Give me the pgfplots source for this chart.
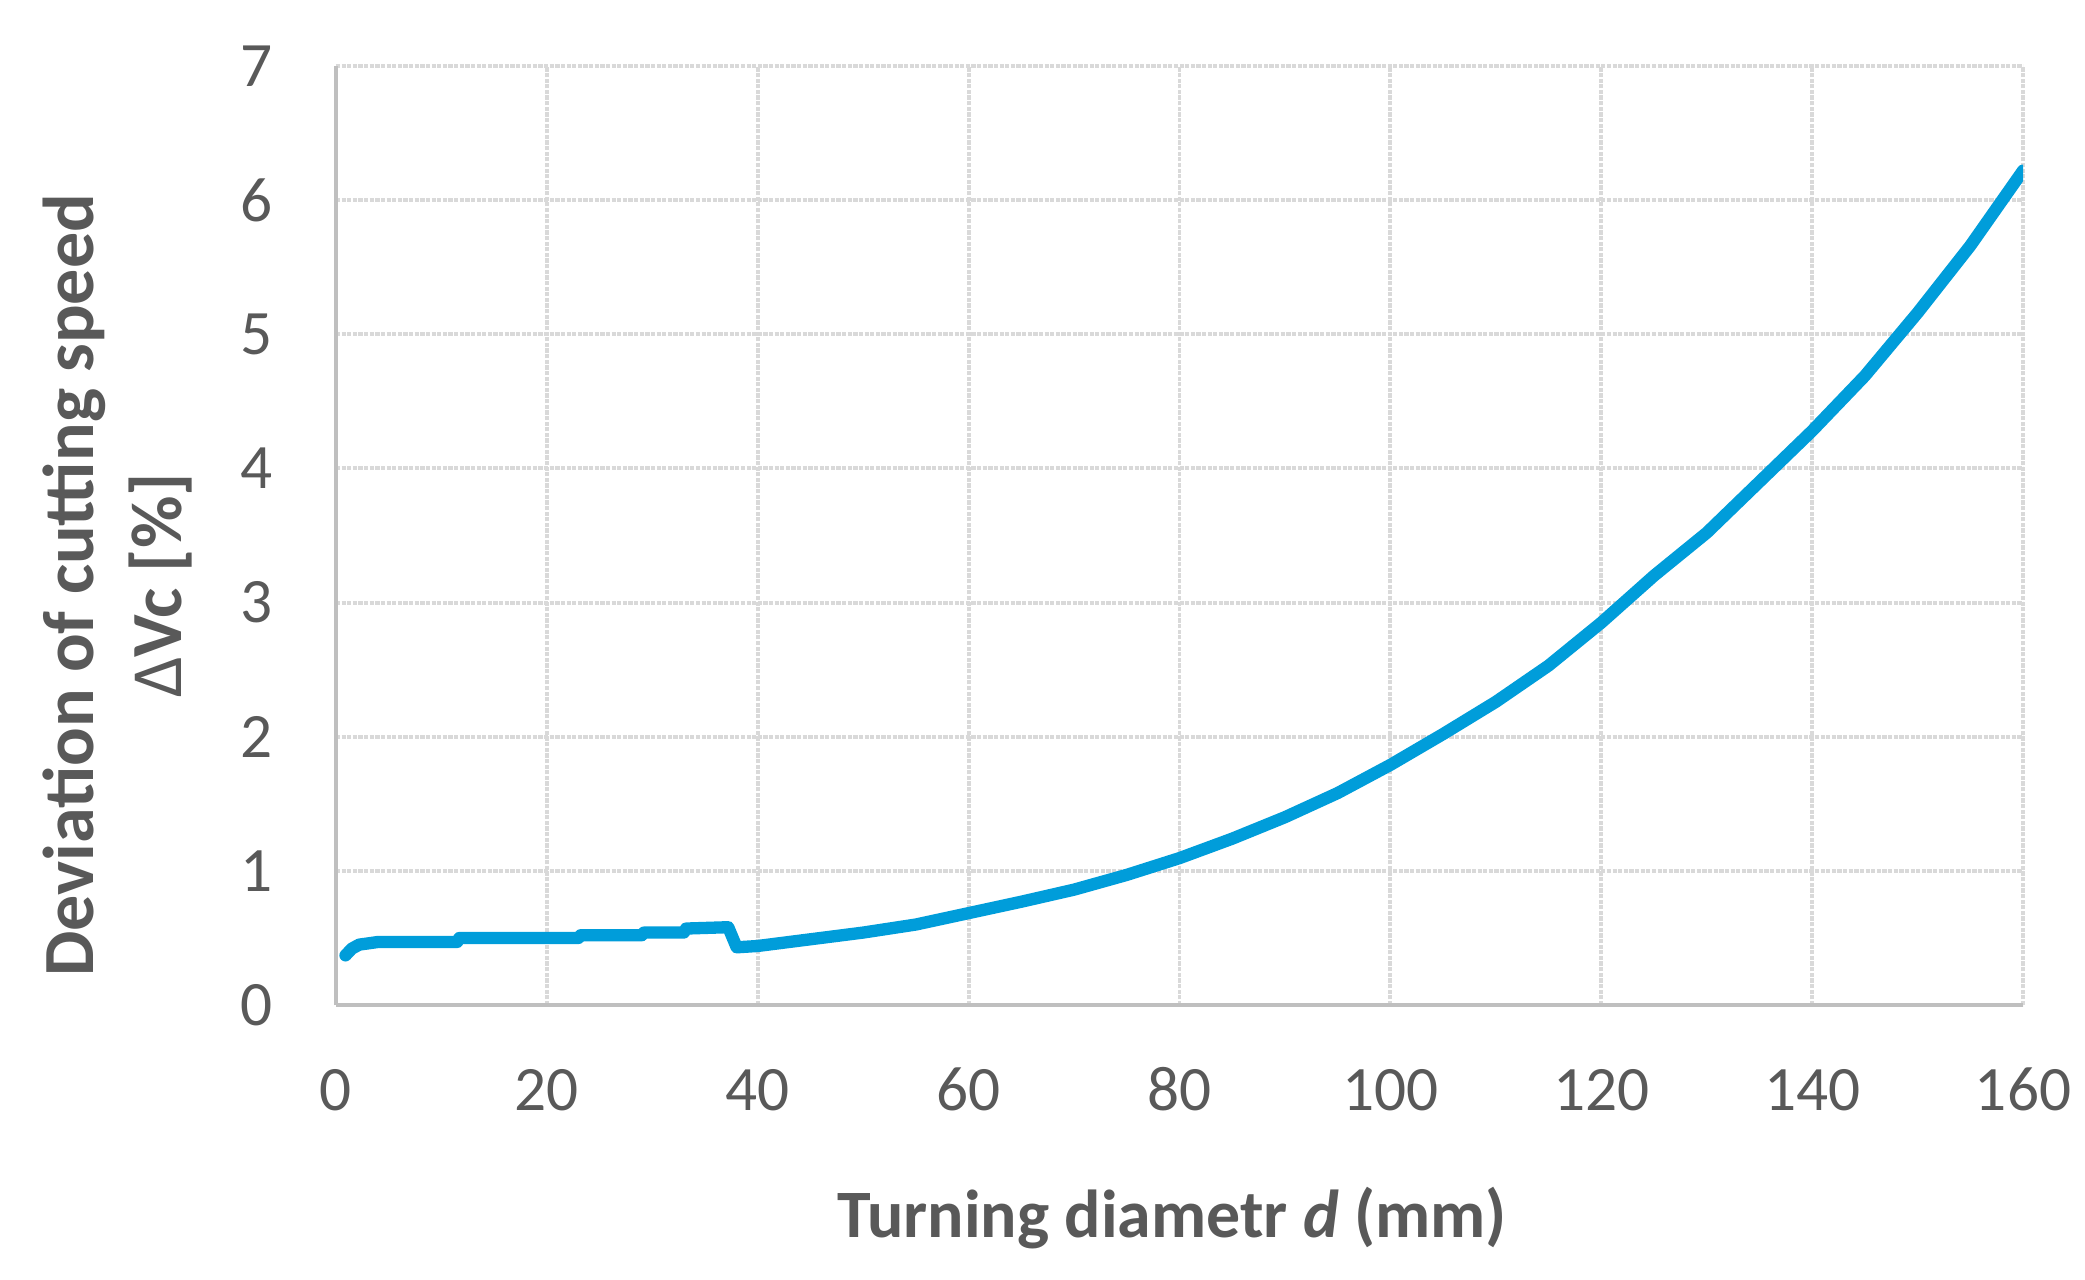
\documentclass[border=0pt]{standalone}
\usepackage{pgfplots}
\pgfplotsset{compat=1.18}
\usepackage{fontspec}
\setmainfont{Carlito}
\definecolor{curve}{RGB}{0,157,218}
\definecolor{txt}{RGB}{89,89,89}
\definecolor{gridc}{RGB}{217,217,217}
\definecolor{axc}{RGB}{191,191,191}
\begin{document}
\begin{tikzpicture}
\useasboundingbox (-33.6mm,-27.4mm) rectangle (174.9mm,100.5mm);
\begin{axis}[
  at={(0,0)}, anchor=south west,
  scale only axis, width=168.7mm, height=93.9mm,
  xmin=0, xmax=160, ymin=0, ymax=7,
  xtick={0,20,...,160}, ytick={0,1,...,7},
  grid=major,
  major grid style={gridc, line width=1.1pt, dash pattern=on 1.2pt off 0.4pt},
  axis x line*=bottom, axis y line*=left,
  axis line style={axc, line width=0.9pt, -},
  major tick length=0pt,
  tick label style={font=\fontsize{18}{20}\selectfont, text=txt},
  /pgf/number format/assume math mode=true,
  xticklabel style={anchor=base, yshift=-10.5mm},
  yticklabel style={anchor=east, inner sep=0pt, xshift=-6.3mm},
  xlabel={Turning diametr \textit{d} (mm)},
  ylabel={Deviation of cutting speed\\{\mdseries Δ}Vc [\%]},
  xlabel style={font=\fontsize{19.3}{23}\selectfont\bfseries, text=txt,
    at={(axis description cs:0.4955,-0.248)}, anchor=base},
  ylabel style={font=\fontsize{20.5}{25}\selectfont\bfseries, text=txt,
    at={(axis description cs:-0.078,0.447)}, anchor=south, align=center},
]
\addplot[curve, line width=3.5pt, line cap=round, line join=round] table {
x y
0.9 0.37
1.5 0.42
2.2 0.45
4.0 0.47
11.5 0.47
11.7 0.50
23.0 0.50
23.2 0.52
29.0 0.52
29.2 0.54
33.0 0.54
33.2 0.57
37.2 0.58
38.0 0.43
40 0.44
45 0.49
50 0.54
55 0.60
60 0.685
65 0.77
70 0.86
75 0.97
80 1.095
85 1.24
90 1.40
95 1.58
100 1.79
105 2.02
110 2.26
115 2.53
120 2.85
125 3.20
130 3.52
135 3.90
140 4.28
145 4.69
150 5.16
155 5.66
160 6.22
};
\end{axis}
\end{tikzpicture}
\end{document}
